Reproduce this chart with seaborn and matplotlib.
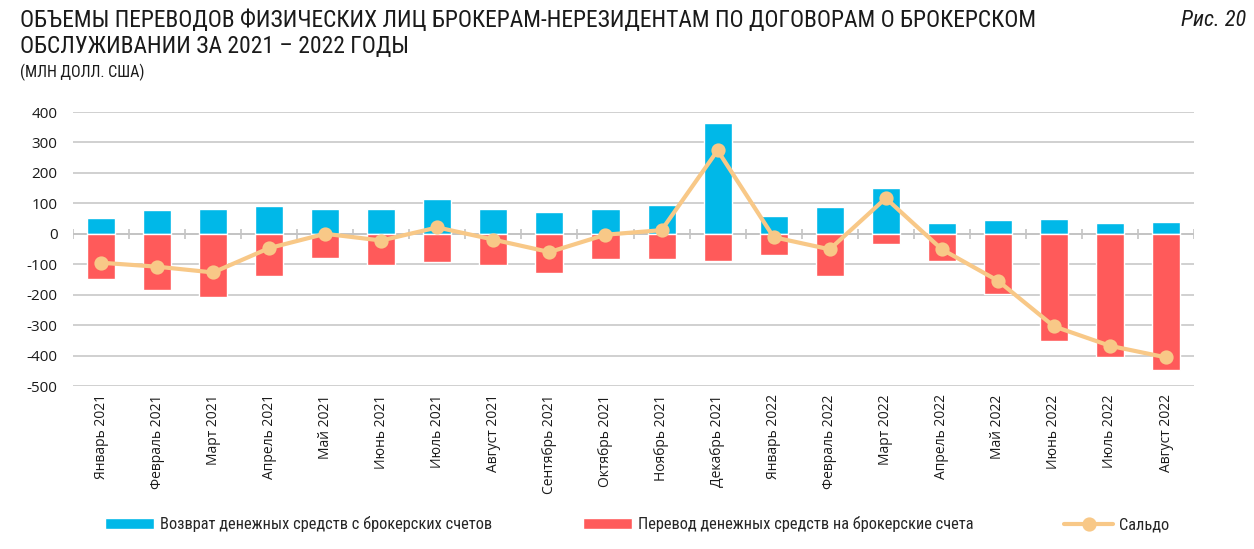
import numpy as np
import pandas as pd
import matplotlib
matplotlib.use("Agg")
import matplotlib.pyplot as plt
import seaborn as sns

sns.set_theme(style="white")
plt.rcParams['font.family'] = ['Open Sans', 'DejaVu Sans']
plt.rcParams['axes.unicode_minus'] = False

months = ['Январь 2021', 'Февраль 2021', 'Март 2021', 'Апрель 2021', 'Май 2021',
          'Июнь 2021', 'Июль 2021', 'Август 2021', 'Сентябрь 2021', 'Октябрь 2021',
          'Ноябрь 2021', 'Декабрь 2021', 'Январь 2022', 'Февраль 2022', 'Март 2022',
          'Апрель 2022', 'Май 2022', 'Июнь 2022', 'Июль 2022', 'Август 2022']
returns = [52, 77, 83, 92, 81, 83, 114, 83, 70, 81, 94, 363, 60, 87, 151, 37, 45, 50, 36, 39]
transfers = [-148, -184, -208, -138, -80, -104, -94, -101, -129, -83, -83, -89, -71, -138, -33,
             -89, -199, -353, -404, -446]
saldo = [-95, -108, -127, -47, 0, -22, 21, -19, -60, -3, 12, 274, -11, -51, 117, -51, -154,
         -304, -368, -406]

blue = "#00B8E8"
red = "#FF5A5A"
orange = "#F8C887"
narrow = ['Liberation Sans Narrow', 'Roboto Condensed', 'DejaVu Sans']

df = pd.DataFrame({'month': months, 'returns': returns, 'transfers': transfers, 'saldo': saldo})

fig = plt.figure(figsize=(12.54, 5.49), dpi=100)
ax = fig.add_axes([0.0582, 0.2969, 0.894, 0.499])

sns.barplot(df, x='month', y='returns', color=blue, width=0.5, saturation=1, ax=ax,
            label='Возврат денежных средств с брокерских счетов', zorder=2)
sns.barplot(df, x='month', y='transfers', color=red, width=0.5, saturation=1, ax=ax,
            label='Перевод денежных средств на брокерские счета', zorder=2)
sns.pointplot(df, x='month', y='saldo', color=orange, markers='o', ax=ax,
              label='Сальдо', linewidth=3, markersize=8, zorder=4)

ax.set_ylim(-500, 400)
ax.set_xlim(-0.5, len(months) - 0.5)
ax.set_yticks(np.arange(-500, 401, 100))
ax.yaxis.grid(True, color='#d0d0d0', linewidth=1.4, zorder=0)
ax.set_axisbelow(True)
ax.axhline(0, color='#c4c4c4', linewidth=1.4, zorder=1)
ax.vlines(np.arange(len(months) + 1) - 0.5, -16, 16, color='#c4c4c4', linewidth=1.2, zorder=1)
for s in ax.spines.values():
    s.set_visible(False)
ax.set_xlabel('')
ax.set_ylabel('')
ax.tick_params(axis='x', labelrotation=90, labelsize=10, length=0, pad=6, colors='#1a1a1a')
ax.tick_params(axis='y', labelsize=11, length=0, pad=11, colors='#1a1a1a')

handles, labels = ax.get_legend_handles_labels()
if ax.get_legend() is not None:
    ax.get_legend().remove()
order = [labels.index('Возврат денежных средств с брокерских счетов'),
         labels.index('Перевод денежных средств на брокерские счета'),
         labels.index('Сальдо')]
fig.legend([handles[i] for i in order], [labels[i] for i in order], loc='center', ncol=3,
           mode='expand', bbox_to_anchor=(0.072, 0.025, 0.872, 0.04), frameon=False,
           handlelength=3.0, handletextpad=0.35, prop={'family': narrow, 'size': 11.8})

fig.text(0.016, 0.963, 'ОБЪЕМЫ ПЕРЕВОДОВ ФИЗИЧЕСКИХ ЛИЦ БРОКЕРАМ-НЕРЕЗИДЕНТАМ ПО ДОГОВОРАМ О БРОКЕРСКОМ',
         family=narrow, fontsize=16.9, va='center', color='#1a1a1a')
fig.text(0.016, 0.916, 'ОБСЛУЖИВАНИИ ЗА 2021 – 2022 ГОДЫ',
         family=narrow, fontsize=16.9, va='center', color='#1a1a1a')
fig.text(0.016, 0.868, '(МЛН ДОЛЛ. США)', family=narrow, fontsize=11.5, va='center', color='#1a1a1a')
fig.text(0.994, 0.963, 'Рис. 20', family=narrow, fontsize=16, style='italic', ha='right',
         va='center', color='#1a1a1a')

fig.savefig('out.png', dpi=100)
